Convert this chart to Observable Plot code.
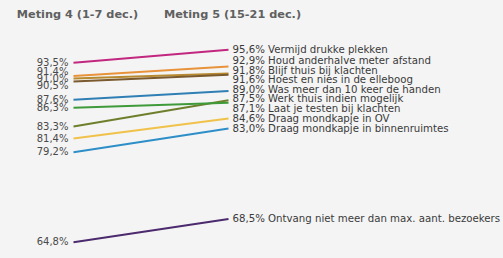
<!DOCTYPE html>
<html>
<head>
<meta charset="utf-8">
<script src="https://cdn.jsdelivr.net/npm/d3@7"></script>
<script src="https://cdn.jsdelivr.net/npm/@observablehq/plot@0.6"></script>
<style>
  html, body { margin: 0; padding: 0; background: #f4f4f4; }
  #chart svg { display: block; }
</style>
</head>
<body>
<div id="chart"></div>
<script>
const periods = ["Meting 4 (1-7 dec.)", "Meting 5 (15-21 dec.)"];
const categories = [
  "Vermijd drukke plekken",
  "Houd anderhalve meter afstand",
  "Blijf thuis bij klachten",
  "Hoest en nies in de elleboog",
  "Was meer dan 10 keer de handen",
  "Werk thuis indien mogelijk",
  "Laat je testen bij klachten",
  "Draag mondkapje in OV",
  "Draag mondkapje in binnenruimtes",
  "Ontvang niet meer dan max. aant. bezoekers"
];
const meting4 = [93.5, 91.4, 91.0, 90.5, 87.6, 83.3, 86.3, 81.4, 79.2, 64.8];
const meting5 = [95.6, 92.9, 91.8, 91.6, 89.0, 87.5, 87.1, 84.6, 83.0, 68.5];
const colors = ["#c2277f", "#e8923a", "#b88a30", "#7a5a2e", "#2f7fb5", "#6e7f2c", "#3f9a3a", "#f0c24a", "#2e8ec8", "#4b2a6e"];

const W = 503, H = 258;
const yDomain = [64.8, 95.6];
const yRange = [241.7, 49.2];
const xRange = [73, 228];
const yPx = d3.scaleLinear(yDomain, yRange);

const fmt = v => v.toFixed(1).replace(".", ",") + "%";

const rows = categories.map((c, i) => ({cat: c, a: meting4[i], b: meting5[i], color: colors[i]}));

// simple label dodging in pixel space, then back to data units
function dodge(values, gap) {
  const items = values.map((v, i) => ({i, p: yPx(v)})).sort((a, b) => a.p - b.p);
  let clusters = items.map(it => ({members: [it], center: it.p}));
  let changed = true;
  while (changed) {
    changed = false;
    for (let k = 0; k < clusters.length - 1; k++) {
      const A = clusters[k], B = clusters[k + 1];
      const aBottom = A.center + (A.members.length - 1) * gap / 2;
      const bTop = B.center - (B.members.length - 1) * gap / 2;
      if (bTop - aBottom < gap) {
        const members = A.members.concat(B.members);
        const center = d3.mean(members, m => m.p);
        clusters.splice(k, 2, {members, center});
        changed = true;
        break;
      }
    }
  }
  const out = new Array(values.length);
  for (const c of clusters) {
    const n = c.members.length;
    c.members.forEach((m, j) => {
      out[m.i] = yPx.invert(c.center + (j - (n - 1) / 2) * gap);
    });
  }
  return out;
}

const leftY = dodge(meting4, 7);
const rightY = dodge(meting5, 9.5);
rows.forEach((r, i) => { r.la = leftY[i]; r.lb = rightY[i]; });

const chart = Plot.plot({
  width: W,
  height: H,
  marginTop: 0,
  marginBottom: 0,
  marginLeft: 0,
  marginRight: 0,
  style: {background: "#f4f4f4", fontFamily: "DejaVu Sans, sans-serif", overflow: "visible"},
  x: {type: "point", domain: periods, range: xRange, padding: 0, axis: null},
  y: {domain: yDomain, range: yRange, axis: null},
  color: {type: "identity"},
  marks: [
    Plot.link(rows, {
      x1: () => periods[0], y1: "a",
      x2: () => periods[1], y2: "b",
      stroke: "color", strokeWidth: 2
    }),
    Plot.text(rows, {
      x: () => periods[0], y: "la", text: d => fmt(d.a),
      textAnchor: "end", dx: -5, fontSize: 10, fill: "#4a4a4a"
    }),
    Plot.text(rows, {
      x: () => periods[1], y: "lb", text: d => fmt(d.b) + " " + d.cat,
      textAnchor: "start", dx: 4, fontSize: 10.2, fill: "#3a3a3a"
    }),
    Plot.text(periods, {
      x: d => d, text: d => d, frameAnchor: "top", lineAnchor: "middle", dy: 14, dx: 4,
      fontSize: 11.3, fontWeight: "bold", fill: "#606060"
    })
  ]
});
document.getElementById("chart").append(chart);
</script>
</body>
</html>
